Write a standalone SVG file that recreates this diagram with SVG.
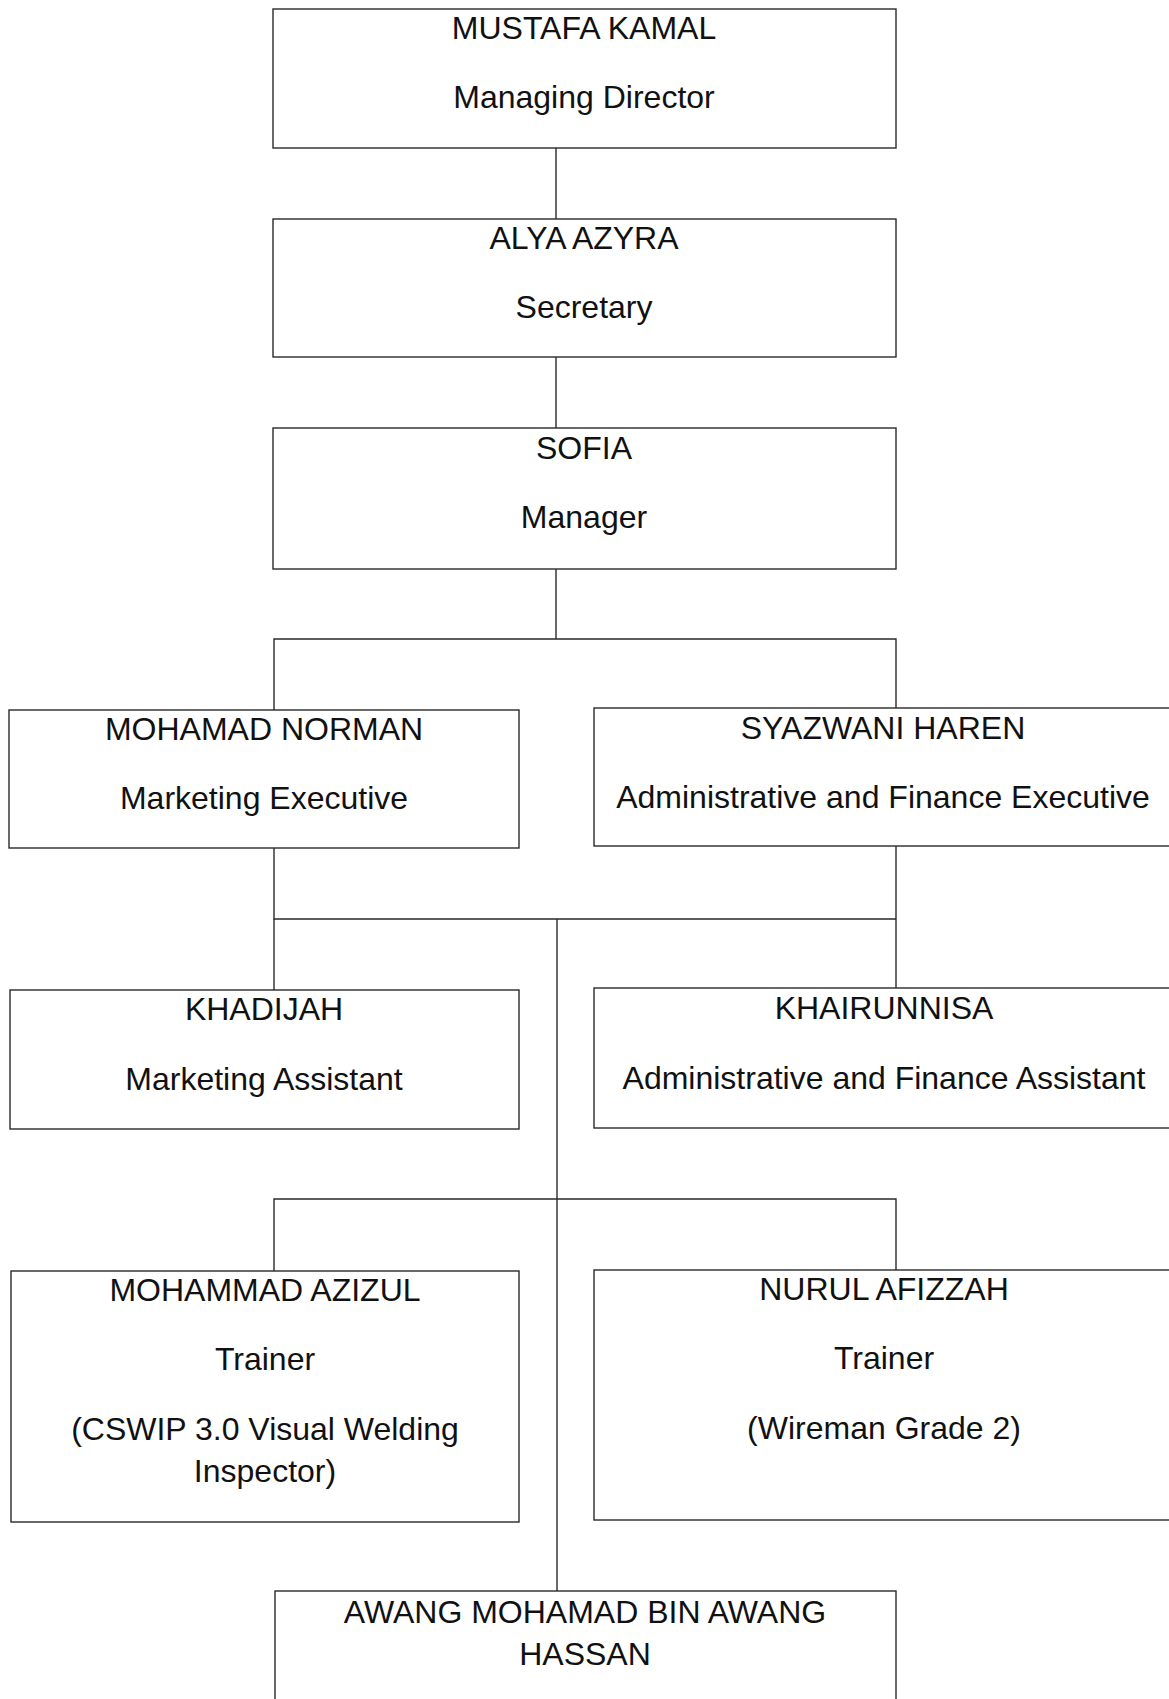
<svg xmlns="http://www.w3.org/2000/svg" width="1169" height="1699" viewBox="0 0 1169 1699">
<style>
.box{fill:#ffffff;stroke:#2a2a2a;stroke-width:1.4}
.t{font-family:"Liberation Sans",Arial,sans-serif;font-size:32px;fill:#111;text-anchor:middle}
.c{fill:none;stroke:#2a2a2a;stroke-width:1.4}
</style>
<rect width="1169" height="1699" fill="#ffffff"/>
<g id="connectors">
<line class="c" x1="556" y1="148" x2="556" y2="219"/>
<line class="c" x1="556" y1="357" x2="556" y2="428"/>
<line class="c" x1="556" y1="569" x2="556" y2="639"/>
<polyline class="c" points="274,710 274,639 896,639 896,708"/>
<polyline class="c" points="274,848 274,919 896,919"/>
<line class="c" x1="896" y1="846" x2="896" y2="988"/>
<line class="c" x1="274" y1="919" x2="274" y2="990"/>
<line class="c" x1="557" y1="919" x2="557" y2="1591"/>
<polyline class="c" points="274,1271 274,1199 896,1199 896,1270"/>
</g>
<g id="n1">
<rect class="box" x="273" y="9" width="623" height="139"/>
<text class="t" x="584" y="39">MUSTAFA KAMAL</text>
<text class="t" x="584" y="108">Managing Director</text>
</g>
<g id="n2">
<rect class="box" x="273" y="219" width="623" height="138"/>
<text class="t" x="584" y="249">ALYA AZYRA</text>
<text class="t" x="584" y="318">Secretary</text>
</g>
<g id="n3">
<rect class="box" x="273" y="428" width="623" height="141"/>
<text class="t" x="584" y="459">SOFIA</text>
<text class="t" x="584" y="528">Manager</text>
</g>
<g id="n4">
<rect class="box" x="9" y="710" width="510" height="138"/>
<text class="t" x="264" y="740">MOHAMAD NORMAN</text>
<text class="t" x="264" y="809">Marketing Executive</text>
</g>
<g id="n5">
<rect class="box" x="594" y="708" width="580" height="138"/>
<text class="t" x="883" y="739">SYAZWANI HAREN</text>
<text class="t" x="883" y="808">Administrative and Finance Executive</text>
</g>
<g id="n6">
<rect class="box" x="10" y="990" width="509" height="139"/>
<text class="t" x="264" y="1020">KHADIJAH</text>
<text class="t" x="264" y="1090">Marketing Assistant</text>
</g>
<g id="n7">
<rect class="box" x="594" y="988" width="580" height="140"/>
<text class="t" x="884" y="1019">KHAIRUNNISA</text>
<text class="t" x="884" y="1089">Administrative and Finance Assistant</text>
</g>
<g id="n8">
<rect class="box" x="11" y="1271" width="508" height="251"/>
<text class="t" x="265" y="1301">MOHAMMAD AZIZUL</text>
<text class="t" x="265" y="1370">Trainer</text>
<text class="t" x="265" y="1440">(CSWIP 3.0 Visual Welding</text>
<text class="t" x="265" y="1482">Inspector)</text>
</g>
<g id="n9">
<rect class="box" x="594" y="1270" width="580" height="250"/>
<text class="t" x="884" y="1300">NURUL AFIZZAH</text>
<text class="t" x="884" y="1369">Trainer</text>
<text class="t" x="884" y="1439">(Wireman Grade 2)</text>
</g>
<g id="n10">
<rect class="box" x="275" y="1591" width="621" height="130"/>
<text class="t" x="585" y="1623">AWANG MOHAMAD BIN AWANG</text>
<text class="t" x="585" y="1665">HASSAN</text>
</g>
</svg>
